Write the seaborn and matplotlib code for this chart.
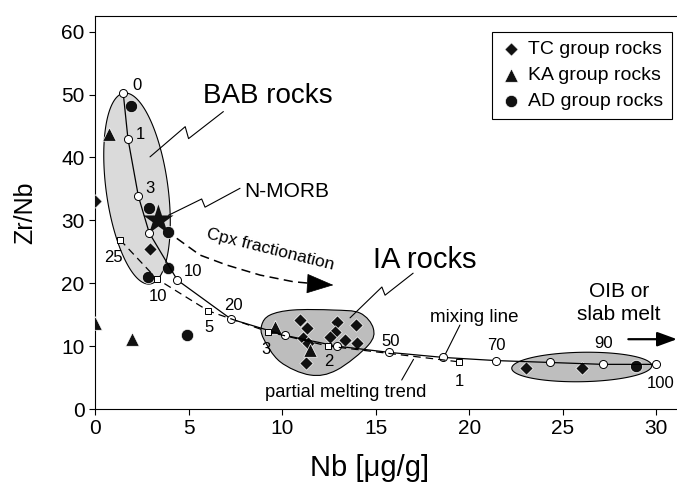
import numpy as np
import matplotlib
matplotlib.use("Agg")
import matplotlib.pyplot as plt
import seaborn as sns
from matplotlib.path import Path
from matplotlib.patches import PathPatch, Polygon

# ================= DATA =================
tc_nb = [0.0, 2.94, 10.96, 11.35, 11.13, 11.4, 11.28, 12.95, 13.95, 12.83, 12.56, 13.36, 13.98, 23.04, 26.0]
tc_zrnb = [33.0, 25.4, 14.15, 12.83, 11.24, 10.45, 7.36, 13.88, 13.35, 12.29, 11.49, 10.97, 10.45, 6.5, 6.5]

ka_nb = [0.75, 0.0, 1.96, 9.62, 11.49]
ka_zrnb = [43.8, 13.6, 11.1, 13.08, 9.38]

ad_nb = [1.91, 2.89, 3.88, 3.88, 2.85, 4.9, 28.9]
ad_zrnb = [48.2, 32.0, 28.1, 22.5, 21.0, 11.8, 6.9]

morb_nb = [3.39]
morb_zrnb = [30.0]

# mixing line (open circles)
mix_nb = [1.51, 1.76, 2.32, 2.90, 4.40, 7.27, 10.16, 12.92, 15.73, 18.62, 21.43, 24.32, 27.13, 29.98]
mix_zrnb = [50.2, 43.0, 33.8, 28.0, 20.5, 14.3, 11.7, 10.0, 9.0, 8.2, 7.7, 7.4, 7.1, 7.1]
mix_lab = ["0", "1", "3", "10", "20", "50", "70", "90", "100"]
mix_lab_x = [2.27, 2.4, 2.94, 5.24, 7.38, 15.8, 21.43, 27.15, 30.25]
mix_lab_y = [51.5, 43.7, 35.1, 21.9, 16.4, 10.8, 10.1, 10.4, 4.0]

# partial melting trend (open squares)
melt_nb = [1.34, 3.30, 6.06, 9.23, 12.47, 19.45]
melt_zrnb = [26.9, 20.7, 15.6, 12.3, 10.0, 7.5]
melt_lab = ["25", "10", "5", "3", "2", "1"]
melt_lab_x = [0.96, 3.34, 6.1, 9.14, 12.5, 19.45]
melt_lab_y = [24.1, 17.9, 13.0, 9.5, 7.5, 4.45]

# cpx fractionation path
cpx_nb = [4.37, 5.61, 7.04, 8.82, 10.6, 12.2]
cpx_zrnb = [27.14, 24.48, 22.89, 21.3, 20.24, 19.8]
cpx_tip = (12.74, 19.71)

# fields
bab_c, bab_a, bab_b = (2.245, 35.06), (0.695, -15.18), (1.636, 0.663)
oib_c, oib_a, oib_b = (26.01, 6.68), (3.74, 0.2), (0.0, 2.34)
ia_nb = [8.91, 9.35, 10.58, 12.72, 14.16, 14.87, 14.61, 12.92, 11.49, 9.89, 9.0]
ia_zrnb = [13.35, 14.94, 15.74, 15.74, 15.26, 12.83, 10.17, 6.2, 5.41, 7.52, 11.24]

BLACK = "#111111"

sns.set_style("ticks")
plt.rcParams['font.family'] = ['Liberation Sans', 'DejaVu Sans']
plt.rcParams['text.color'] = 'black'
plt.rcParams['axes.labelcolor'] = 'black'
plt.rcParams['xtick.color'] = 'black'
plt.rcParams['ytick.color'] = 'black'

fig = plt.figure(figsize=(6.77, 4.86), dpi=100)
ax = fig.add_axes([95 / 677, 77 / 486, 582 / 677, 393 / 486])


def ellipse_patch(c, a, b, fc):
    t = np.linspace(0, 2 * np.pi, 200)
    xs = c[0] + a[0] * np.cos(t) + b[0] * np.sin(t)
    ys = c[1] + a[1] * np.cos(t) + b[1] * np.sin(t)
    return Polygon(np.column_stack([xs, ys]), closed=True, fc=fc, ec="black", lw=0.8, zorder=1)


def smooth_closed(xs, ys):
    pts = np.column_stack([xs, ys])
    n = len(pts)
    verts, codes = [pts[0]], [Path.MOVETO]
    for i in range(n):
        p0, p1, p2, p3 = pts[i - 1], pts[i], pts[(i + 1) % n], pts[(i + 2) % n]
        verts += [p1 + (p2 - p0) / 6, p2 - (p3 - p1) / 6, p2]
        codes += [Path.CURVE4] * 3
    return Path(verts, codes)


# ================= FIELDS =================
ax.add_patch(ellipse_patch(bab_c, bab_a, bab_b, "#dadada"))
ax.add_patch(ellipse_patch(oib_c, oib_a, oib_b, "#bebebe"))
ax.add_patch(PathPatch(smooth_closed(ia_nb, ia_zrnb), fc="#bdbdbd", ec="black", lw=0.8, zorder=1))

# ================= SAMPLES =================
sns.scatterplot(x=tc_nb, y=tc_zrnb, marker="D", s=46, color=BLACK, edgecolor="white",
                linewidth=0.5, zorder=4, ax=ax, label="TC group rocks")
sns.scatterplot(x=ka_nb, y=ka_zrnb, marker="^", s=95, color=BLACK, edgecolor="white",
                linewidth=0.5, zorder=4, ax=ax, label="KA group rocks")
sns.scatterplot(x=ad_nb, y=ad_zrnb, marker="o", s=78, color=BLACK, edgecolor="white",
                linewidth=0.5, zorder=4, ax=ax, label="AD group rocks")
sns.scatterplot(x=morb_nb, y=morb_zrnb, marker="*", s=520, color=BLACK, edgecolor="none",
                zorder=4, ax=ax, legend=False)

# ================= MODEL CURVES =================
sns.lineplot(x=mix_nb, y=mix_zrnb, sort=False, color="black", lw=0.9, marker="o", markersize=5.8,
             markerfacecolor="white", markeredgecolor="black", markeredgewidth=0.7, zorder=5, ax=ax)
sns.lineplot(x=melt_nb, y=melt_zrnb, sort=False, color="black", lw=0.9, linestyle=(0, (6, 4)),
             marker="s", markersize=4.8, markerfacecolor="white", markeredgecolor="black",
             markeredgewidth=0.7, zorder=5, ax=ax)
sns.lineplot(x=cpx_nb, y=cpx_zrnb, sort=False, color="black", lw=1.1, linestyle=(0, (6, 3.5)),
             zorder=3, ax=ax)
ax.annotate("", xy=cpx_tip, xytext=(cpx_nb[-1], cpx_zrnb[-1]),
            arrowprops=dict(arrowstyle="-|>,head_length=0.9,head_width=0.33", color="black",
                            lw=0.5, mutation_scale=20, shrinkA=0, shrinkB=0), zorder=3)

for t, x, y in zip(mix_lab, mix_lab_x, mix_lab_y):
    ax.text(x, y, t, fontsize=12, ha="center", va="center", zorder=6)
for t, x, y in zip(melt_lab, melt_lab_x, melt_lab_y):
    ax.text(x, y, t, fontsize=12, ha="center", va="center", zorder=6)

# ================= LEADERS & TEXT =================
leaders = [
    ([6.86, 5.0, 4.82, 2.94], [47.3, 43.0, 44.9, 40.1]),
    ([7.75, 5.88, 5.7, 3.92], [35.1, 32.1, 33.4, 30.8]),
    ([17.0, 15.5, 15.33, 13.63], [21.6, 18.1, 19.4, 14.5]),
    ([19.5, 18.7], [13.35, 8.6]),
    ([16.39, 17.02], [4.61, 7.9]),
]
for lx, ly in leaders:
    ax.plot(lx, ly, color="black", lw=0.8, zorder=2)

ax.text(5.77, 48.65, "BAB rocks", fontsize=20, ha="left", va="baseline")
ax.text(14.87, 22.5, "IA rocks", fontsize=21, ha="left", va="baseline")
ax.text(7.98, 33.75, "N-MORB", fontsize=15, ha="left", va="baseline")
ax.text(9.35, 25.3, "Cpx fractionation", fontsize=12.5, ha="center", va="center",
        rotation=-14, rotation_mode="anchor")
ax.text(17.9, 13.9, "mixing line", fontsize=13.5, ha="left", va="baseline")
ax.text(9.09, 1.86, "partial melting trend", fontsize=13.2, ha="left", va="baseline")
ax.text(28.0, 17.85, "OIB or", fontsize=15, ha="center", va="baseline")
ax.text(27.97, 14.15, "slab melt", fontsize=15, ha="center", va="baseline")
ax.annotate("", xy=(31.1, 11.1), xytext=(28.5, 11.1),
            arrowprops=dict(arrowstyle="-|>,head_length=0.6,head_width=0.22", color="black",
                            lw=1.6, mutation_scale=20, shrinkA=0, shrinkB=0),
            annotation_clip=False)

# ================= AXES =================
ax.set_xlim(0, 31.1)
ax.set_ylim(0, 62.5)
ax.set_xticks(range(0, 31, 5))
ax.set_yticks(range(0, 61, 10))
ax.tick_params(labelsize=15, length=4, width=0.8, direction="out", color="black")
for side in ["left", "bottom", "top"]:
    ax.spines[side].set_linewidth(0.8)
    ax.spines[side].set_color("black")
ax.spines["right"].set_visible(False)

ax.set_xlabel("Nb [μg/g]", fontsize=21)
ax.set_ylabel("Zr/Nb", fontsize=18)
ax.xaxis.set_label_coords(0.4725, -0.115)
ax.yaxis.set_label_coords(-0.10, 0.5)

leg = ax.legend(loc="upper right", bbox_to_anchor=(0.9914, 0.9593), borderaxespad=0,
                frameon=True, fancybox=False, edgecolor="black", framealpha=1, fontsize=14,
                handletextpad=0.4, handlelength=1.0, labelspacing=0.43, borderpad=0.45)
leg.get_frame().set_linewidth(0.8)

fig.savefig("out.png", dpi=100)
